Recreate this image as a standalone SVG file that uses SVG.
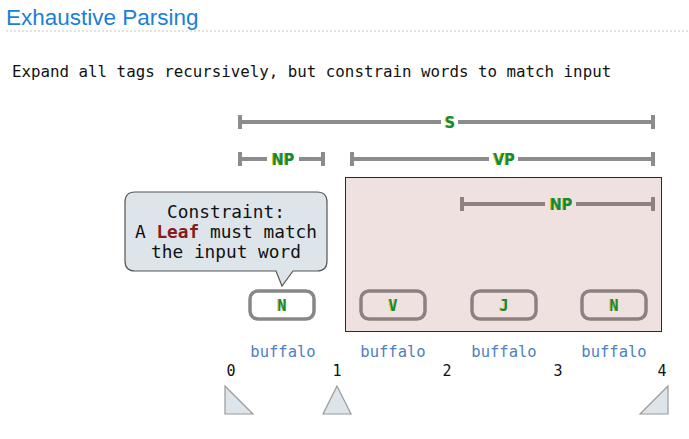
<svg xmlns="http://www.w3.org/2000/svg" width="689" height="439" viewBox="0 0 689 439">
  <style>
    .title { font-family: "Liberation Sans", Arial, sans-serif; font-size: 22.5px; fill: #1b7fd6; }
    .mono { font-family: "DejaVu Sans Mono", "Liberation Mono", monospace; }
    .sub { font-size: 15.8px; fill: #111; }
    .bar { stroke: #8c8c8c; stroke-width: 4; fill: none; }
    .bar-in { stroke: #8e8080; stroke-width: 4; fill: none; }
    .tag, .tag-sh { font-family: "DejaVu Sans Condensed", "DejaVu Sans", sans-serif; font-stretch: condensed; font-weight: bold; font-size: 16px; text-anchor: middle; }
    .tag { fill: #128a38; }
    .tag-sh { fill: #d8c020; }
    .leaf { fill: #ffffff; stroke: #8a8686; stroke-width: 3.5; }
    .leaf-in { fill: #f0e1e1; stroke: #8e8080; stroke-width: 3.5; }
    .ltag, .ltag-sh { font-family: "DejaVu Sans Mono", monospace; font-weight: bold; font-size: 15px; text-anchor: middle; }
    .ltag { fill: #128a38; }
    .ltag-sh { fill: #d8c020; }
    .word { font-size: 15.5px; fill: #4f7fc4; text-anchor: middle; }
    .idx { font-size: 15px; fill: #111; text-anchor: middle; }
    .tri { fill: #dde4ea; stroke: #9a9a9a; stroke-width: 1.2; }
    .note { font-size: 17.8px; fill: #111; text-anchor: middle; }
  </style>

  <!-- heading -->
  <text class="title" x="6" y="25">Exhaustive Parsing</text>
  <line x1="6" y1="31" x2="689" y2="31" stroke="#c8c8c8" stroke-width="1.2" stroke-dasharray="2,2"/>
  <text class="mono sub" x="12" y="77">Expand all tags recursively, but constrain words to match input</text>

  <!-- VP span background -->
  <rect id="vp-region" x="345.5" y="177.5" width="316" height="154" fill="#f0e1e1" stroke="#2a2a2a" stroke-width="1"/>

  <g id="connectors">
    <!-- S span -->
    <path class="bar" d="M240,115 V129 M240,122 H441 M458,122 H653 M653,115 V129"/>
    <!-- NP span -->
    <path class="bar" d="M240,152 V166 M240,159 H267 M299,159 H323 M323,152 V166"/>
    <!-- VP span -->
    <path class="bar" d="M352,152 V166 M352,159 H489 M518,159 H653 M653,152 V166"/>
    <!-- inner NP span -->
    <path class="bar-in" d="M462,197 V211 M462,204 H545 M576,204 H653 M653,197 V211"/>
  </g>

  <g id="span-S">
    <text class="tag-sh" x="449.3" y="128">S</text>
    <text class="tag" x="450" y="128">S</text>
  </g>
  <g id="span-NP">
    <text class="tag-sh" x="282.3" y="165">NP</text>
    <text class="tag" x="283" y="165">NP</text>
  </g>
  <g id="span-VP">
    <text class="tag-sh" x="503.3" y="165">VP</text>
    <text class="tag" x="504" y="165">VP</text>
  </g>
  <g id="span-NP2">
    <text class="tag-sh" x="560.3" y="210">NP</text>
    <text class="tag" x="561" y="210">NP</text>
  </g>

  <!-- leaf tags -->
  <g id="leaf-N1">
    <rect class="leaf" x="250" y="291" width="64" height="28" rx="8"/>
    <text class="ltag-sh" x="281.3" y="310.5">N</text>
    <text class="ltag" x="282" y="310.5">N</text>
  </g>
  <g id="leaf-V">
    <rect class="leaf-in" x="361" y="291" width="64" height="28" rx="8"/>
    <text class="ltag-sh" x="392.3" y="310.5">V</text>
    <text class="ltag" x="393" y="310.5">V</text>
  </g>
  <g id="leaf-J">
    <rect class="leaf-in" x="472" y="291" width="64" height="28" rx="8"/>
    <text class="ltag-sh" x="503.3" y="310.5">J</text>
    <text class="ltag" x="504" y="310.5">J</text>
  </g>
  <g id="leaf-N2">
    <rect class="leaf-in" x="582" y="291" width="64" height="28" rx="8"/>
    <text class="ltag-sh" x="613.3" y="310.5">N</text>
    <text class="ltag" x="614" y="310.5">N</text>
  </g>

  <!-- callout -->
  <g id="callout">
    <path d="M135,192 H317 Q327,192 327,202 V261 Q327,271 317,271 H293 L282,286 L276,271 H135 Q125,271 125,261 V202 Q125,192 135,192 Z" fill="#dde4ea" stroke="#555" stroke-width="1.2"/>
    <text class="mono note" x="226" y="218">Constraint:</text>
    <text class="mono note" x="226" y="238">A <tspan font-weight="bold" fill="#8b1a1a">Leaf</tspan> must match</text>
    <text class="mono note" x="226" y="258">the input word</text>
  </g>

  <!-- input words -->
  <g id="words">
    <text class="mono word" x="283" y="357">buffalo</text>
    <text class="mono word" x="393" y="357">buffalo</text>
    <text class="mono word" x="504" y="357">buffalo</text>
    <text class="mono word" x="614" y="357">buffalo</text>
  </g>
  <g id="indices">
    <text class="mono idx" x="231" y="376">0</text>
    <text class="mono idx" x="337" y="376">1</text>
    <text class="mono idx" x="447" y="376">2</text>
    <text class="mono idx" x="558" y="376">3</text>
    <text class="mono idx" x="662" y="376">4</text>
  </g>

  <!-- position markers -->
  <g id="markers">
    <polygon class="tri" points="225,386 225,414 253,414"/>
    <polygon class="tri" points="337,386 323,414 351,414"/>
    <polygon class="tri" points="668,386 668,414 640,414"/>
  </g>
</svg>
